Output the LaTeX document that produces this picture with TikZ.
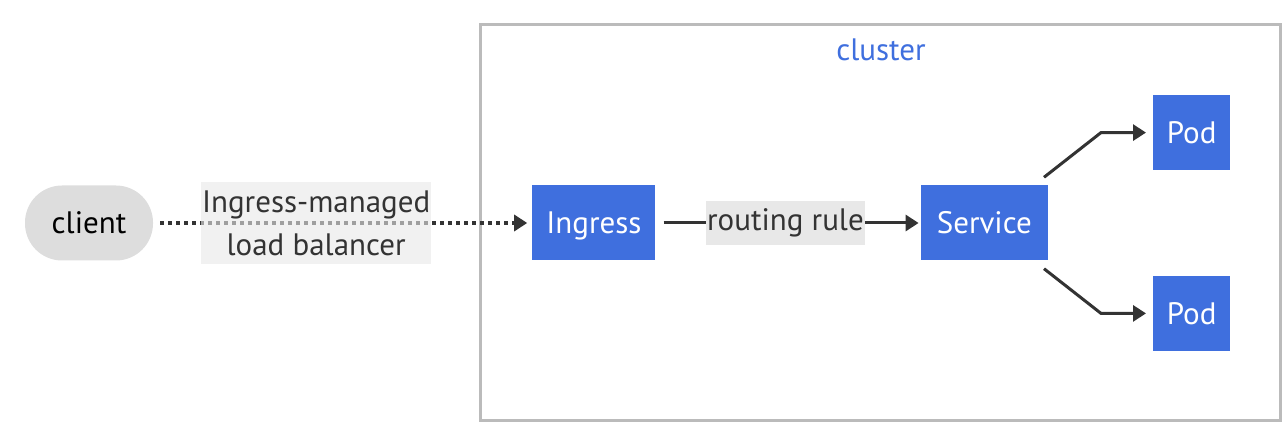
\documentclass[tikz,border=0pt]{standalone}
\usepackage{xcolor}
\usepackage{fontspec}
\setmainfont{PT Sans}
\usepackage{tikz}
\usetikzlibrary{positioning}
\usetikzlibrary{arrows.meta}

\definecolor{kblue}{HTML}{3F6FDE}
\definecolor{kgray}{HTML}{DDDDDD}
\definecolor{kline}{HTML}{333333}
\definecolor{kborder}{HTML}{BBBBBB}
\definecolor{klabel}{HTML}{E8E8E8}

\tikzset{
	res/.style={rectangle,fill=kblue,text=white,minimum height=75pt,inner sep=0pt,text height=22pt,text depth=0pt},
	ext/.style={rectangle,rounded corners=37pt,fill=kgray,text=black,minimum width=128pt,minimum height=75pt,inner sep=0pt,text height=22pt,text depth=0pt},
	lbl/.style={fill=klabel,text=kline,inner xsep=1pt,inner ysep=5pt},
	link/.style={draw=kline,line width=3pt,-{Triangle[length=13pt,width=16pt]}}
}

\begin{document}
\begin{tikzpicture}[font=\fontsize{31}{43}\selectfont]
	\useasboundingbox (0,0) rectangle (1288pt,442pt);
	
	\draw[kborder,line width=3pt] (480pt,22pt) rectangle (1280pt,417pt);
	\node[text=kblue] (clus) at (881pt,392pt) {cluster};
	
	\node[ext] (client) at (89pt,219pt) {client};
	\node[res,minimum width=123pt] (ing) [right = 379pt of client] {Ingress};
	\node[res,minimum width=127pt] (svc) [right = 265pt of ing] {Service};
	
	\node[res,minimum width=77pt] (pod1) [above right = 15pt and 105pt of svc] {Pod};
	\node[res,minimum width=77pt] (pod2) [below right = 15pt and 105pt of svc] {Pod};
	
	\draw[link,line width=4pt,dash pattern=on 4pt off 4pt,shorten <=7pt,shorten >=5pt] (client) -- node[lbl,fill opacity=0.6,text opacity=1,align=center,pos=0.43,inner ysep=8pt] (lb) {Ingress-managed\\load balancer} (ing);
	\draw[link,shorten <=8pt,shorten >=2pt] (ing) -- node[lbl,pos=0.49,text height=23pt,text depth=7pt,inner ysep=7pt] (rr) {routing rule} (svc);
	
	\draw[link,shorten >=7pt] ([xshift=-4pt,yshift=8pt]svc.north east) -- ([xshift=-52pt]pod1.west) -- (pod1.west);
	\draw[link,shorten >=7pt] ([xshift=-4pt,yshift=-8pt]svc.south east) -- ([xshift=-52pt]pod2.west) -- (pod2.west);
\end{tikzpicture}
\end{document}
